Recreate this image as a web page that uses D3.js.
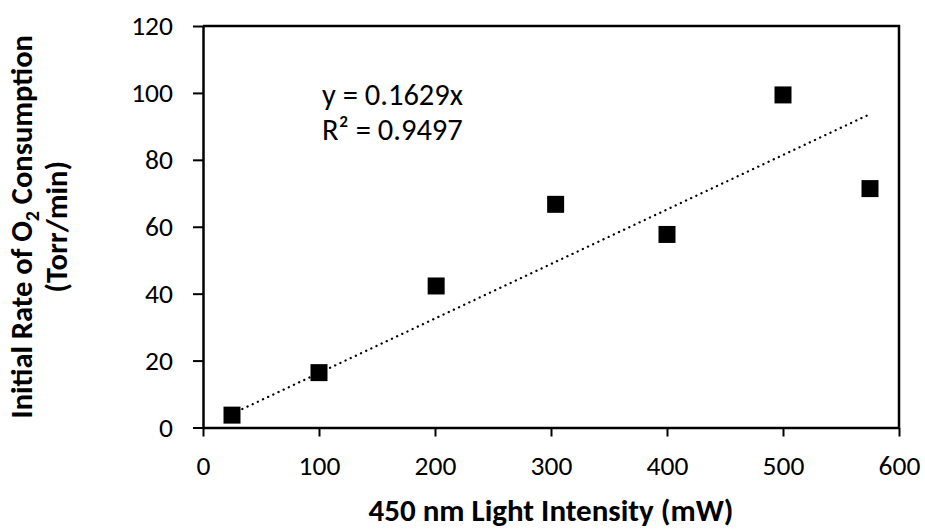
<!DOCTYPE html>
<html>
<head>
<meta charset="utf-8">
<script src="https://cdn.jsdelivr.net/npm/d3@7"></script>
<style>
  html, body { margin: 0; padding: 0; background: #fff; }
  svg { display: block; font-family: Carlito, Calibri, Lato, "Open Sans", sans-serif; }
</style>
</head>
<body>
<svg id="chart" width="925" height="529"></svg>
<script>
// Light intensity (mW) vs. initial O2 consumption rate (Torr/min)
const intensity = [25, 100, 201, 304, 400, 500, 575];
const rate = [3.7, 16.4, 42.3, 66.7, 57.7, 99.4, 71.4];
const xTicks = [0, 100, 200, 300, 400, 500, 600];
const yTicks = [0, 20, 40, 60, 80, 100, 120];
const slope = 0.1629;
const rSquared = 0.9497;

const svg = d3.select("#chart");
const plotLeft = 203, plotRight = 899, plotTop = 26, plotBottom = 427.5;
const fontStack = "Carlito, Calibri, Lato, sans-serif";

const x = d3.scaleLinear().domain([0, 600]).range([plotLeft, plotRight]);
const y = d3.scaleLinear().domain([0, 120]).range([plotBottom, plotTop]);

// frame (top and right edges)
svg.append("path")
  .attr("d", `M${plotLeft},${plotTop}H${plotRight}V${plotBottom}`)
  .attr("fill", "none").attr("stroke", "#000").attr("stroke-width", 2.5);

// axes
const xAxis = svg.append("g").attr("transform", `translate(0,${plotBottom})`)
  .call(d3.axisBottom(x).tickValues(xTicks).tickSize(9).tickPadding(19).tickSizeOuter(0));
const yAxis = svg.append("g").attr("transform", `translate(${plotLeft},0)`)
  .call(d3.axisLeft(y).tickValues(yTicks).tickSize(10).tickPadding(20).tickSizeOuter(0));

[xAxis, yAxis].forEach(g => {
  g.select(".domain").attr("stroke", "#000").attr("stroke-width", 2.5);
  g.selectAll(".tick line").attr("stroke", "#000").attr("stroke-width", 2);
  g.selectAll(".tick text").attr("fill", "#000")
    .style("font-size", "27.5px").style("font-family", fontStack);
});

// linear trendline through the origin
const x0 = d3.min(intensity), x1 = d3.max(intensity);
svg.append("line")
  .attr("x1", x(x0)).attr("y1", y(slope * x0))
  .attr("x2", x(x1)).attr("y2", y(slope * x1))
  .attr("stroke", "#000").attr("stroke-width", 2.3)
  .attr("stroke-linecap", "round").attr("stroke-dasharray", "0.1 5.6");

// data markers
svg.append("g").selectAll("path")
  .data(intensity.map((v, i) => [v, rate[i]]))
  .join("path")
  .attr("transform", d => `translate(${x(d[0])},${y(d[1])})`)
  .attr("d", d3.symbol(d3.symbolSquare, 17 * 17))
  .attr("fill", "#000");

// fit equation
const eq = svg.append("text").attr("x", 322).attr("y", 105)
  .style("font-size", "30.5px").attr("fill", "#000");
eq.append("tspan").text(`y = ${slope}x`);
eq.append("tspan").attr("x", 322).attr("dy", 35).text(`R² = ${rSquared}`);

// axis titles
svg.append("text")
  .attr("x", 551).attr("y", 521)
  .attr("text-anchor", "middle")
  .style("font-size", "31px").style("font-weight", "bold")
  .text("450 nm Light Intensity (mW)");

const yt = svg.append("text")
  .attr("transform", `translate(32,${(plotTop + plotBottom) / 2}) rotate(-90)`)
  .attr("text-anchor", "middle")
  .style("font-size", "30.5px").style("font-weight", "bold");
yt.append("tspan").attr("x", 0).attr("y", 0).text("Initial Rate of O");
yt.append("tspan").attr("dy", 7).style("font-size", "20px").text("2");
yt.append("tspan").attr("dy", -7).text(" Consumption");
yt.append("tspan").attr("x", 0).attr("y", 35).text("(Torr/min)");
</script>
</body>
</html>
